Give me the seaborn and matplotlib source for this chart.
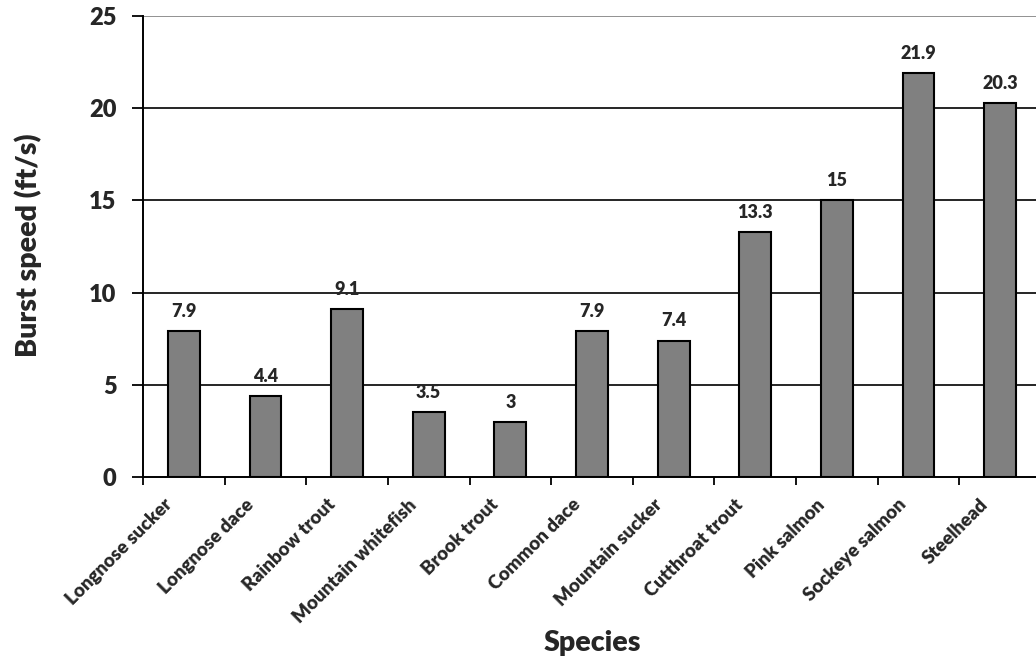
import numpy as np
import pandas as pd
import matplotlib
matplotlib.use("Agg")
import matplotlib.pyplot as plt
import seaborn as sns

species = ["Longnose sucker", "Longnose dace", "Rainbow trout", "Mountain whitefish",
           "Brook trout", "Common dace", "Mountain sucker", "Cutthroat trout",
           "Pink salmon", "Sockeye salmon", "Steelhead"]
burst_speed = [7.9, 4.4, 9.1, 3.5, 3.0, 7.9, 7.4, 13.3, 15.0, 21.9, 20.3]
value_labels = ["7.9", "4.4", "9.1", "3.5", "3", "7.9", "7.4", "13.3", "15", "21.9", "20.3"]
y_ticks = [0, 5, 10, 15, 20, 25]

sns.set_theme(style="white")
plt.rcParams["font.family"] = ["Lato", "DejaVu Sans"]
W = "heavy"

df = pd.DataFrame({"Species": species, "Speed": burst_speed})

fig = plt.figure(figsize=(10.36, 6.57), dpi=100)
ax = fig.add_axes([143 / 1036, 1 - 477 / 657, (1041 - 143) / 1036, (477 - 16) / 657])

sns.barplot(data=df, x="Species", y="Speed", color="#808080", saturation=1,
            width=0.39, edgecolor="black", linewidth=1.5, ax=ax, zorder=3)

n = len(species)
ax.set_xlim(-0.5, n - 0.5)
ax.set_ylim(0, 25)

# horizontal gridlines
for v in y_ticks[1:]:
    ax.axhline(v, color="#7f7f7f" if v == 25 else "black", lw=1.2, zorder=1)

# value labels above bars
for i, (v, lab) in enumerate(zip(burst_speed, value_labels)):
    ax.annotate(lab, (i, v), xytext=(0, 8), textcoords="offset points",
                ha="center", va="bottom", fontsize=13, fontweight=W)

# category boundary ticks; rotated labels hang just left of each category centre
label_nudge = 0.18
ax.set_xticks(np.arange(n + 1) - 0.5)
ax.set_xticklabels([])
ax.set_xticks(np.arange(n) - label_nudge, minor=True)
ax.set_xticklabels(species, minor=True, rotation=45, ha="right",
                   rotation_mode="anchor", va="center", fontsize=13.5, fontweight=W)
ax.tick_params(axis="x", which="major", direction="out", length=6, width=1.3,
               color="black", bottom=True)
ax.tick_params(axis="x", which="minor", length=0, pad=18)

ax.set_yticks(y_ticks)
ax.set_yticklabels([str(t) for t in y_ticks], fontsize=17, fontweight=W)
ax.tick_params(axis="y", direction="out", length=8, width=1.3, color="black",
               left=True, pad=11)

for side in ["top", "right"]:
    ax.spines[side].set_visible(False)
for side in ["left", "bottom"]:
    ax.spines[side].set_visible(True)
    ax.spines[side].set_color("black")
    ax.spines[side].set_linewidth(1.4)
    ax.spines[side].set_zorder(4)

ax.set_xlabel("Species", fontsize=20.5, fontweight=W)
ax.xaxis.set_label_coords((592 - 143) / (1041 - 143), (477 - 643) / (477 - 16))
ax.xaxis.label.set_va("center")
ax.set_ylabel("Burst speed (ft/s)", fontsize=20.5, fontweight=W)
ax.yaxis.set_label_coords((28 - 143) / (1041 - 143), (477 - 245) / (477 - 16))
ax.yaxis.label.set_va("center")

fig.savefig("out.png", dpi=100)
